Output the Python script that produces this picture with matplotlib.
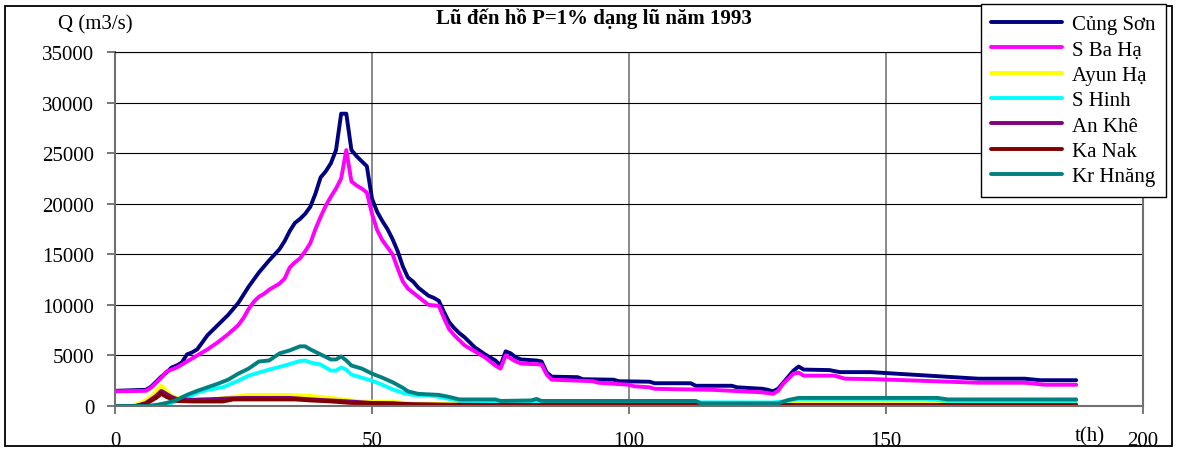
import matplotlib.pyplot as plt
from matplotlib.patches import Rectangle

# discharge hydrographs, (t [h], Q [m3/s])
cung_son = [(0, 1500), (6, 1600), (7, 1900), (8, 2400), (9, 2900), (10, 3300), (11, 3800),
            (12, 4000), (13, 4300), (14, 5100), (15, 5300), (16, 5600), (18, 7000), (20, 8000),
            (22, 9000), (24, 10200), (26, 11800), (28, 13200), (30, 14400), (32, 15500),
            (33, 16300), (34, 17300), (35, 18100), (36, 18500), (37, 19000), (38, 19700),
            (39, 21000), (40, 22600), (41, 23200), (42, 24000), (43, 25300), (44, 28900),
            (45, 28900), (46, 25300), (47, 24700), (48, 24200), (49, 23700), (50, 20500),
            (51, 19200), (52, 18300), (53, 17500), (54, 16500), (55, 15300), (56, 13800),
            (57, 12700), (58, 12300), (59, 11700), (60, 11300), (61, 10900), (62, 10700),
            (63, 10400), (64, 9300), (65, 8300), (66, 7700), (67, 7200), (68, 6800), (70, 5800),
            (72, 5100), (74, 4500), (75, 4000), (76, 5400), (77, 5200), (78, 4800), (79, 4600),
            (82, 4500), (83, 4400), (84, 3300), (85, 2900), (90, 2850), (91, 2650), (97, 2600),
            (98, 2450), (104, 2400), (105, 2250), (112, 2250), (113, 2000), (120, 2000),
            (121, 1850), (126, 1700), (127, 1600), (128, 1450), (129, 1700), (130, 2300),
            (131, 2900), (132, 3500), (133, 3900), (134, 3600), (139, 3550), (141, 3350),
            (147, 3350), (168, 2700), (177, 2700), (180, 2550), (187, 2550)]

s_ba_ha = [(0, 1450), (6, 1500), (7, 1800), (8, 2300), (9, 2800), (10, 3400), (11, 3600),
           (12, 3800), (13, 4100), (14, 4400), (16, 5000), (18, 5600), (20, 6300), (22, 7100),
           (24, 8000), (25, 8700), (26, 9600), (27, 10300), (28, 10800), (29, 11100),
           (30, 11500), (31, 11800), (32, 12100), (33, 12600), (34, 13700), (35, 14200),
           (36, 14600), (37, 15300), (38, 16100), (39, 17500), (40, 18700), (41, 19800),
           (42, 20700), (43, 21500), (44, 22500), (45, 25300), (46, 22200), (47, 21800),
           (48, 21500), (49, 21100), (50, 19000), (51, 17400), (52, 16400), (53, 15700),
           (54, 15000), (55, 13600), (56, 12300), (57, 11600), (58, 11200), (59, 10800),
           (60, 10400), (61, 10000), (63, 9900), (64, 8700), (65, 7600), (66, 7000), (68, 6000),
           (70, 5400), (72, 4800), (74, 4000), (75, 3700), (76, 5000), (77, 4700), (78, 4400),
           (79, 4200), (83, 4100), (84, 3100), (85, 2600), (93, 2450), (94, 2300), (100, 2100),
           (101, 1950), (104, 1850), (105, 1700), (116, 1600), (126, 1350), (128, 1200),
           (129, 1500), (130, 2200), (131, 2700), (132, 3200), (133, 3300), (134, 3000),
           (140, 3000), (142, 2700), (148, 2650), (168, 2300), (177, 2300), (181, 2100),
           (187, 2100)]

ayun_ha = [(0, 0), (3, 0), (5, 300), (7, 900), (9, 2000), (10, 1500), (11, 1000), (12, 800),
           (15, 700), (20, 700), (23, 900), (26, 1100), (33, 1100), (38, 1000), (42, 800),
           (45, 600), (48, 450), (54, 400), (58, 250), (70, 150), (128, 100), (131, 300),
           (133, 400), (160, 400), (162, 200), (187, 200)]

s_hinh = [(0, 0), (9, 0), (10, 100), (12, 500), (14, 800), (16, 1300), (18, 1600), (21, 1850),
          (24, 2500), (26, 3000), (28, 3300), (30, 3600), (33, 4000), (36, 4450), (37, 4500),
          (38, 4300), (40, 4100), (42, 3500), (43, 3500), (44, 3800), (45, 3600), (46, 3100),
          (48, 2800), (50, 2500), (52, 2100), (54, 1650), (56, 1300), (58, 1100), (62, 1000),
          (64, 800), (67, 500), (75, 400), (128, 350), (131, 500), (133, 700), (158, 700),
          (162, 500), (187, 500)]

an_khe = [(0, 0), (4, 0), (6, 300), (8, 1000), (9, 1500), (10, 1200), (11, 900), (12, 700),
          (15, 600), (20, 700), (22, 750), (25, 800), (34, 800), (37, 700), (40, 600),
          (44, 500), (47, 400), (50, 300), (55, 200), (65, 100), (187, 100)]

ka_nak = [(0, 0), (4, 0), (6, 200), (8, 800), (9, 1200), (10, 900), (11, 700), (12, 500),
          (15, 450), (21, 450), (23, 650), (35, 650), (38, 550), (42, 450), (46, 300),
          (54, 280), (58, 150), (75, 100), (187, 80)]

kr_hnang = [(0, 0), (6, 0), (8, 100), (10, 300), (12, 600), (14, 1100), (16, 1500), (18, 1850),
            (20, 2200), (22, 2600), (24, 3200), (26, 3700), (28, 4400), (30, 4500), (32, 5200),
            (34, 5500), (36, 5900), (37, 5900), (38, 5600), (40, 5100), (42, 4600), (43, 4600),
            (44, 4900), (45, 4500), (46, 4000), (48, 3700), (50, 3200), (52, 2800), (54, 2350),
            (56, 1800), (57, 1450), (59, 1200), (63, 1100), (65, 900), (67, 650), (74, 650),
            (75, 500), (81, 550), (82, 700), (83, 500), (113, 500), (114, 250), (129, 250),
            (131, 600), (133, 800), (160, 800), (162, 650), (187, 650)]

names = ['Củng Sơn', 'S Ba Hạ', 'Ayun Hạ', 'S Hinh', 'An Khê', 'Ka Nak', 'Kr Hnăng']
colors = ['#000080', '#ff00ff', '#ffff00', '#00ffff', '#800080', '#800000', '#008080']
series = [cung_son, s_ba_ha, ayun_ha, s_hinh, an_khe, ka_nak, kr_hnang]

plt.rcParams['font.family'] = ['Liberation Serif', 'DejaVu Serif']

W, H = 1177, 456
fig = plt.figure(figsize=(W / 100, H / 100), dpi=100)
ax = fig.add_axes([115 / W, 1 - 407 / H, (1143 - 115) / W, (407 - 53) / H])

for data, name, col in zip(series, names, colors):
    t = [p[0] for p in data]
    q = [p[1] for p in data]
    ax.plot(t, q, color=col, lw=2.8, label=name, solid_joinstyle='round',
            solid_capstyle='round')

ax.set_xlim(0, 200)
ax.set_ylim(0, 35000)
ax.set_xticks([0, 50, 100, 150, 200])
ax.set_yticks(range(0, 35001, 5000))
ax.tick_params(axis='both', labelsize=15, length=6, width=1.2, color='#606060')
ax.tick_params(axis='x', pad=12)
ax.tick_params(axis='y', pad=9)

ax.yaxis.grid(True, color='black', lw=0.8)
ax.xaxis.grid(True, color='#808080', lw=1.3)
ax.set_axisbelow(True)
for side in ['left', 'right', 'bottom']:
    ax.spines[side].set_color('#707070')
    ax.spines[side].set_linewidth(1.5)
ax.spines['top'].set_color('black')
ax.spines['top'].set_linewidth(0.8)

fig.text(1090 / W, 1 - 437 / H, 't(h)', fontsize=15, ha='center', va='center')
fig.text(95 / W, 1 - 25 / H, 'Q (m3/s)', fontsize=15, ha='center', va='center')
fig.text(594 / W, 1 - 19 / H, 'Lũ đến hồ P=1% dạng lũ năm 1993', fontsize=15,
         fontweight='bold', ha='center', va='center')

# outer chart frame
fig.patches.append(Rectangle((5 / W, 1 - 447 / H), (1172 - 5) / W, (447 - 7) / H,
                             transform=fig.transFigure, fill=False, ec='black', lw=1.3))

leg = fig.legend(loc='upper left', bbox_to_anchor=(981 / W, 1 - 5 / H), fontsize=15,
                 handlelength=3.4, labelspacing=0.28, borderaxespad=0, fancybox=False,
                 framealpha=1, edgecolor='black', borderpad=0.5, handletextpad=0.45)
leg.get_frame().set_linewidth(1.0)
for line in leg.get_lines():
    line.set_linewidth(2.8)

plt.savefig('out.png', dpi=100)
